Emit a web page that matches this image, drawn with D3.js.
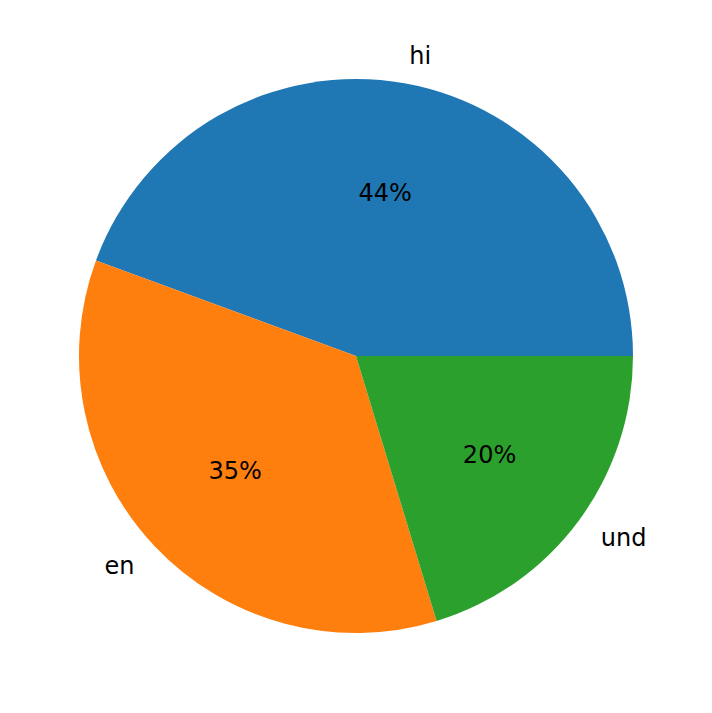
<!DOCTYPE html>
<html><head><script src="https://cdn.jsdelivr.net/npm/d3@7"></script>
<style>body{margin:0;background:#fff}</style></head><body>
<script>
const labels = ["hi","en","und"];
const values = [44.4,35.3,20.3];
const colors = ["#1f77b4","#ff7f0e","#2ca02c"];
const W=712,H=713,cx=356,cy=356,R=277;
const svg=d3.select("body").append("svg").attr("width",W).attr("height",H);
const g=svg.append("g").attr("transform",`translate(${cx},${cy})`);
const pie=d3.pie().sort(null).startAngle(Math.PI/2).endAngle(Math.PI/2-2*Math.PI);
const arcs=pie(values);
const arc=d3.arc().innerRadius(0).outerRadius(R);
g.selectAll("path").data(arcs).enter().append("path").attr("d",arc).attr("fill",(d,i)=>colors[i]);
const font="DejaVu Sans, sans-serif";
arcs.forEach((d,i)=>{
  const a=(d.startAngle+d.endAngle)/2;
  const x=Math.sin(a),y=-Math.cos(a);
  g.append("text").attr("x",x*R*1.1).attr("y",y*R*1.1).attr("dy","0.35em")
   .attr("text-anchor",x>0?"start":"end").attr("font-family",font).attr("font-size",24).text(labels[i]);
  g.append("text").attr("x",x*R*0.6).attr("y",y*R*0.6).attr("dy","0.35em")
   .attr("text-anchor","middle").attr("font-family",font).attr("font-size",24)
   .text(Math.round(values[i])+"%");
});
</script></body></html>
